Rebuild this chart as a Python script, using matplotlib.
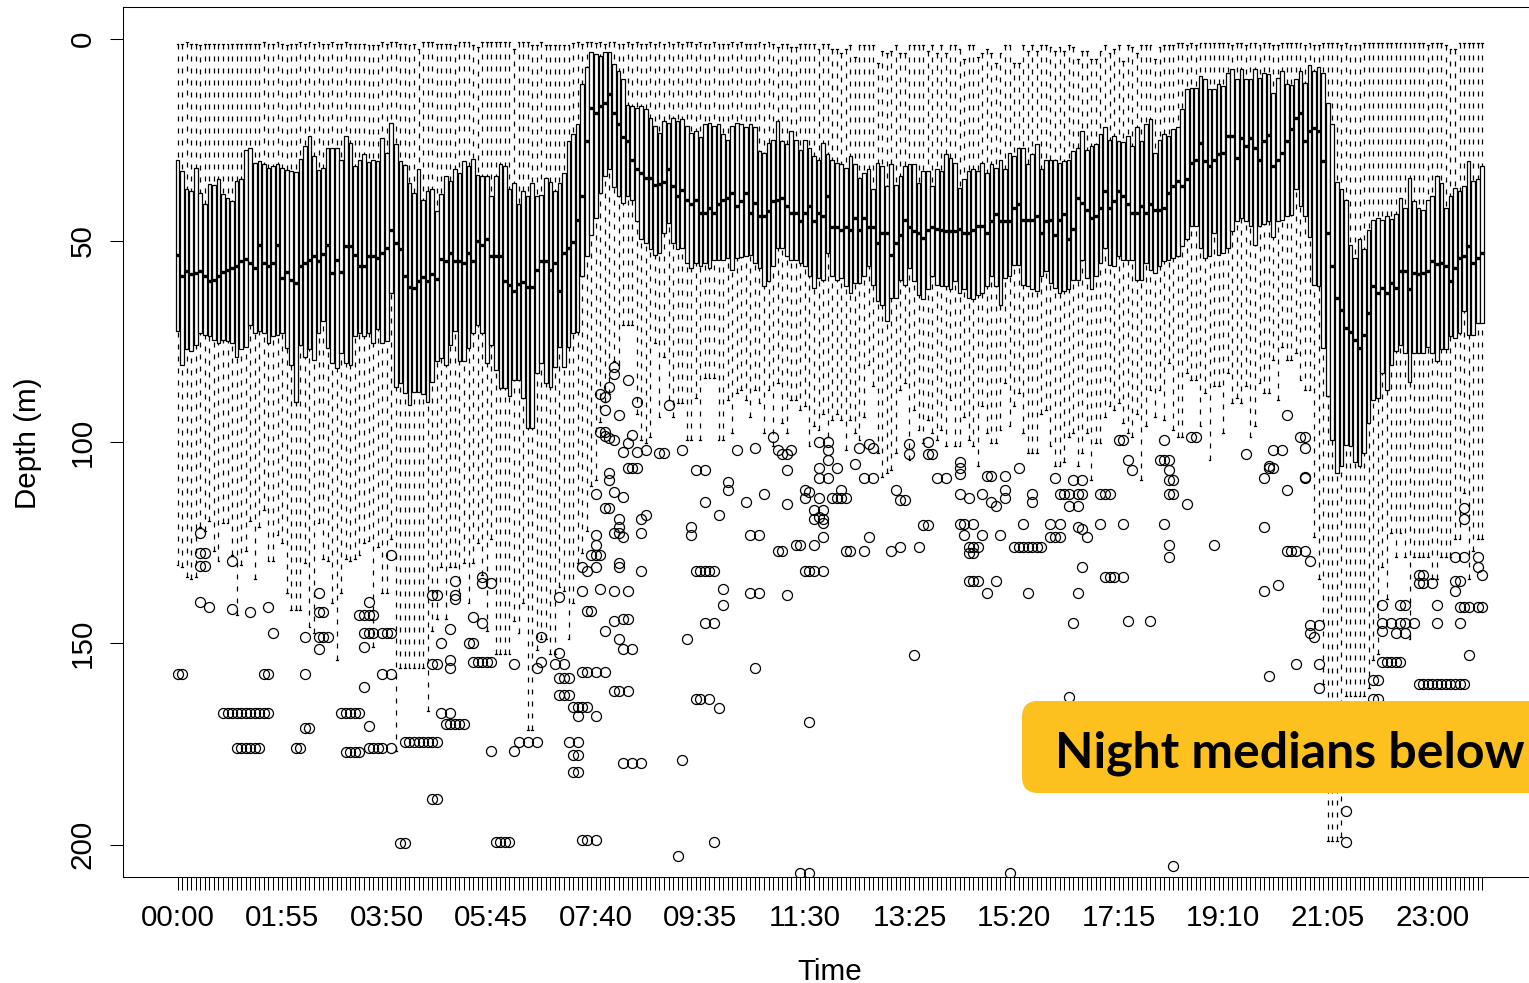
import matplotlib.pyplot as plt
from matplotlib.patches import FancyBboxPatch

plt.rcParams['font.family'] = ['Liberation Sans', 'DejaVu Sans']

# dive depth per 5-minute slot of the day
slots = [f"{m // 60:02d}:{m % 60:02d}" for m in range(0, 24 * 60, 5)]
tick_labels = ["00:00", "01:55", "03:50", "05:45", "07:40", "09:35", "11:30",
               "13:25", "15:20", "17:15", "19:10", "21:05", "23:00"]

q1 = [29.9, 32.8, 37.1, 37.7, 32.0, 38.3, 41.0, 35.9, 36.2, 34.7, 38.5, 39.4,
      40.2, 35.2, 34.8, 27.5, 27.0, 30.7, 30.3, 31.1, 32.0, 31.5, 31.0, 32.0,
      32.5, 32.8, 33.0, 29.7, 26.5, 24.0, 29.0, 32.5, 32.0, 27.0, 27.0, 27.0,
      29.9, 24.0, 25.7, 31.5, 30.0, 28.6, 30.6, 30.0, 30.3, 24.5, 28.2, 20.7,
      26.0, 30.2, 31.3, 35.6, 38.1, 32.3, 39.8, 37.7, 37.3, 42.6, 38.5, 34.0,
      35.2, 32.3, 33.2, 30.2, 31.5, 29.8, 33.6, 34.0, 33.9, 39.0, 34.0, 31.0,
      31.5, 37.3, 35.6, 41.0, 37.7, 39.0, 35.6, 39.0, 38.8, 34.4, 35.5, 37.7,
      35.6, 33.2, 25.3, 23.6, 21.1, 11.2, 7.0, 3.3, 3.7, 4.1, 3.1, 3.1,
      6.2, 7.9, 10.0, 16.4, 16.6, 17.0, 16.6, 17.4, 19.5, 21.5, 23.2, 20.3,
      20.7, 19.5, 20.3, 19.9, 21.5, 23.2, 22.8, 24.2, 21.0, 20.9, 21.5, 21.1,
      23.6, 24.9, 21.5, 20.7, 21.1, 21.9, 21.1, 21.9, 27.8, 28.2, 25.7, 24.9,
      20.3, 25.3, 26.1, 22.8, 24.9, 27.4, 24.9, 27.0, 29.0, 29.9, 25.7, 28.6,
      29.9, 30.7, 31.0, 31.9, 29.0, 31.0, 34.4, 33.2, 32.3, 37.3, 30.7, 31.5,
      36.5, 31.0, 36.1, 34.0, 31.5, 30.9, 31.0, 35.6, 32.8, 32.8, 36.5, 32.3,
      32.8, 28.6, 29.4, 30.7, 36.9, 34.8, 32.8, 32.2, 32.8, 30.7, 33.2, 31.0,
      31.9, 29.9, 32.3, 28.2, 29.0, 27.0, 27.0, 31.0, 28.6, 26.1, 32.3, 29.9,
      29.9, 29.9, 30.7, 30.3, 29.9, 27.8, 27.0, 22.8, 27.4, 26.5, 26.1, 23.6,
      21.9, 24.9, 24.0, 25.3, 25.5, 24.0, 26.5, 21.9, 25.3, 21.1, 19.9, 28.2,
      24.9, 23.6, 24.0, 22.4, 21.9, 17.4, 12.4, 12.0, 12.0, 9.1, 10.0, 12.4,
      12.4, 11.2, 11.6, 8.3, 7.5, 10.0, 7.5, 10.0, 10.0, 7.5, 9.6, 8.3,
      8.7, 13.3, 9.6, 7.9, 11.2, 11.4, 10.0, 7.9, 10.8, 6.5, 7.9, 7.0,
      8.4, 15.8, 21.1, 35.5, 37.3, 39.8, 51.0, 54.3, 49.7, 52.2, 47.3, 44.8,
      44.4, 44.8, 43.9, 44.6, 43.5, 39.4, 41.9, 34.4, 40.2, 41.9, 42.3, 39.8,
      39.0, 34.0, 35.6, 41.9, 39.0, 37.0, 37.7, 36.5, 30.3, 35.2, 34.8, 31.5]

med = [53.5, 58.7, 57.6, 58.2, 58.0, 57.6, 58.9, 60.1, 59.7, 58.9, 57.9, 57.2,
       56.8, 56.4, 55.1, 54.5, 55.6, 56.8, 51.0, 55.6, 56.4, 55.6, 51.0, 59.3,
       57.7, 59.8, 60.5, 56.4, 55.6, 54.7, 53.9, 55.0, 53.3, 51.0, 58.0, 54.8,
       57.9, 51.4, 51.4, 53.5, 56.4, 56.4, 53.9, 53.9, 54.3, 53.0, 51.8, 47.3,
       50.5, 52.0, 58.7, 61.4, 61.7, 60.1, 59.0, 60.0, 58.2, 59.5, 54.5, 55.0,
       53.0, 55.0, 55.0, 55.6, 53.0, 55.0, 50.0, 51.0, 49.6, 53.9, 53.9, 53.9,
       60.0, 61.0, 62.6, 60.7, 60.4, 61.5, 61.5, 57.4, 55.0, 55.0, 57.4, 55.6,
       62.6, 53.0, 51.8, 50.4, 44.8, 39.0, 25.3, 17.1, 18.3, 16.6, 15.8, 13.7,
       18.3, 21.0, 24.3, 25.3, 29.9, 32.3, 33.2, 34.4, 34.4, 36.3, 36.0, 35.5,
       32.3, 36.5, 39.0, 37.5, 39.8, 40.8, 39.8, 43.1, 43.1, 41.9, 43.1, 41.0,
       39.8, 39.4, 38.1, 41.5, 40.2, 38.1, 43.1, 40.6, 43.9, 43.9, 42.7, 40.2,
       39.8, 39.4, 41.5, 43.1, 43.1, 45.2, 43.1, 41.5, 45.2, 43.1, 43.9, 39.0,
       46.6, 46.6, 47.3, 46.6, 47.3, 44.4, 47.3, 44.4, 46.6, 46.6, 50.5, 48.1,
       48.1, 53.5, 50.5, 48.5, 44.8, 46.6, 47.7, 48.1, 49.4, 47.3, 46.6, 47.0,
       47.3, 47.7, 47.7, 47.7, 47.0, 48.1, 48.1, 47.3, 46.4, 46.4, 48.1, 45.2,
       43.5, 45.2, 45.2, 45.2, 41.9, 41.0, 44.8, 44.8, 44.8, 43.9, 48.1, 45.2,
       44.8, 48.5, 44.8, 43.5, 49.6, 47.0, 39.4, 40.6, 42.3, 44.4, 43.9, 41.9,
       37.7, 41.9, 40.2, 37.7, 39.0, 41.0, 43.1, 43.1, 41.5, 43.1, 41.0, 42.3,
       42.3, 41.9, 38.1, 36.5, 35.2, 36.5, 34.8, 30.7, 29.9, 25.7, 30.3, 31.5,
       29.9, 28.6, 28.2, 24.0, 24.0, 29.4, 24.5, 26.5, 24.5, 26.9, 29.9, 25.3,
       23.9, 31.5, 30.0, 28.2, 25.3, 22.4, 19.5, 18.3, 25.3, 22.8, 22.0, 22.8,
       30.3, 48.1, 56.4, 64.2, 67.2, 71.7, 72.6, 74.6, 76.6, 73.4, 68.0, 61.3,
       63.0, 61.7, 63.0, 60.5, 61.7, 57.6, 57.6, 62.1, 58.0, 58.4, 58.0, 57.6,
       55.0, 55.9, 55.5, 56.4, 60.1, 56.8, 54.3, 53.9, 51.4, 55.5, 54.3, 53.0]

q3 = [72.5, 81.0, 77.0, 77.5, 75.8, 73.0, 73.4, 73.8, 74.6, 75.5, 74.6, 75.0,
      75.5, 78.8, 77.0, 76.3, 70.9, 73.0, 72.5, 73.0, 75.5, 73.8, 73.4, 73.0,
      76.6, 81.0, 90.0, 76.0, 79.0, 77.0, 79.6, 73.0, 70.0, 76.6, 80.4, 81.7,
      78.0, 80.4, 80.8, 73.8, 73.0, 73.8, 73.0, 75.5, 72.0, 75.5, 75.0, 63.0,
      86.3, 85.4, 87.9, 90.8, 87.5, 87.5, 88.0, 90.0, 85.0, 80.0, 79.2, 80.8,
      75.9, 72.5, 80.0, 80.0, 76.6, 73.0, 71.0, 73.0, 80.4, 76.0, 82.0, 86.7,
      86.7, 88.7, 84.6, 84.6, 89.0, 96.6, 96.6, 82.9, 80.4, 85.4, 86.3, 81.3,
      76.3, 81.3, 76.3, 73.0, 72.6, 58.9, 53.9, 48.5, 44.4, 38.1, 34.0, 32.3,
      36.6, 39.0, 40.6, 39.0, 40.0, 45.2, 49.7, 50.5, 52.2, 53.5, 53.0, 48.0,
      45.6, 50.5, 52.2, 51.8, 55.5, 56.8, 55.5, 56.4, 55.5, 56.8, 54.7, 54.7,
      54.7, 54.3, 57.2, 54.3, 54.0, 53.9, 53.5, 55.5, 56.8, 61.3, 60.0, 56.4,
      51.8, 51.8, 53.9, 54.7, 54.7, 55.5, 56.4, 58.9, 61.7, 59.3, 59.7, 53.0,
      58.9, 59.7, 59.3, 61.3, 63.0, 60.5, 60.5, 58.9, 56.4, 61.0, 65.0, 65.9,
      70.0, 64.2, 64.2, 59.7, 61.0, 56.8, 60.0, 63.4, 64.6, 62.1, 58.9, 61.0,
      61.3, 61.3, 62.1, 60.0, 63.0, 62.1, 64.2, 64.6, 63.4, 63.0, 61.3, 58.9,
      61.3, 65.9, 59.3, 58.9, 56.0, 56.0, 61.0, 61.3, 62.1, 62.6, 58.9, 57.6,
      60.5, 61.7, 63.0, 62.6, 62.1, 59.7, 59.7, 54.7, 59.3, 62.1, 58.9, 55.5,
      51.8, 56.0, 56.4, 53.9, 54.7, 54.7, 54.7, 59.7, 59.7, 55.5, 57.2, 58.0,
      56.4, 55.1, 54.7, 54.3, 53.9, 51.4, 49.7, 46.4, 46.4, 51.8, 54.3, 53.9,
      48.0, 53.5, 53.0, 51.8, 47.7, 45.2, 44.4, 45.2, 46.4, 51.0, 46.4, 46.0,
      45.2, 49.0, 45.2, 44.8, 43.9, 43.7, 37.3, 41.5, 43.9, 49.0, 61.0, 61.3,
      76.6, 88.7, 99.5, 107.7, 106.0, 100.7, 101.0, 105.0, 106.0, 102.8, 95.3, 89.5,
      89.1, 82.9, 87.0, 80.8, 77.5, 75.9, 77.9, 85.0, 77.9, 77.9, 77.9, 76.3,
      77.9, 80.0, 77.0, 77.0, 73.8, 74.2, 73.0, 67.6, 73.4, 73.4, 70.5, 70.5]

# shallow whisker end
whisk_top = [1.2, 1.2, 0.6, 1.2, 1.2, 1.5, 1.2, 1.2, 1.2, 1.2, 1.2, 1.2,
             1.2, 1.2, 1.2, 1.2, 1.2, 1.2, 1.2, 0.6, 1.2, 1.2, 0.6, 1.2,
             1.5, 1.2, 1.2, 0.6, 1.2, 0.6, 1.2, 0.6, 1.2, 1.2, 0.6, 1.2,
             1.2, 0.6, 1.2, 1.2, 1.2, 1.2, 1.5, 1.5, 1.5, 0.6, 1.2, 0.6,
             0.8, 1.2, 1.2, 1.5, 1.2, 2.5, 0.8, 0.6, 0.6, 1.2, 1.2, 1.2,
             1.2, 1.5, 0.6, 0.6, 0.6, 1.5, 2.0, 0.8, 0.8, 0.8, 0.8, 0.8,
             0.8, 0.8, 2.5, 0.8, 0.8, 0.8, 1.5, 1.5, 0.6, 1.5, 1.5, 1.5,
             1.5, 1.5, 1.5, 1.0, 0.8, 1.2, 0.8, 0.8, 1.0, 0.8, 1.2, 0.8,
             0.6, 1.2, 1.2, 0.6, 1.2, 0.6, 1.2, 1.2, 0.6, 1.2, 0.6, 1.2,
             0.6, 1.2, 0.6, 1.2, 0.6, 0.6, 1.2, 0.6, 1.2, 1.2, 0.6, 1.2,
             1.2, 1.2, 0.6, 1.2, 0.6, 1.2, 1.2, 1.2, 0.6, 1.2, 0.6, 1.2,
             2.0, 1.2, 1.2, 2.0, 2.0, 1.2, 1.2, 1.2, 1.2, 2.5, 1.2, 1.2,
             2.5, 2.5, 3.5, 2.5, 1.5, 4.5, 1.5, 1.5, 1.5, 1.5, 6.0, 3.0,
             3.5, 3.0, 1.5, 3.5, 3.5, 1.5, 1.5, 1.5, 1.5, 3.0, 1.5, 3.5,
             1.5, 3.5, 1.5, 1.5, 2.5, 5.0, 1.5, 1.5, 4.5, 3.5, 2.5, 3.5,
             6.0, 3.5, 1.5, 1.5, 6.0, 6.0, 1.5, 3.0, 1.5, 3.0, 1.5, 1.5,
             2.0, 3.0, 2.0, 3.0, 1.5, 2.0, 5.0, 3.0, 3.0, 5.0, 5.0, 3.0,
             1.5, 3.5, 2.5, 1.5, 5.5, 1.5, 2.0, 3.5, 1.5, 1.5, 1.5, 5.0,
             2.0, 1.5, 1.5, 1.5, 1.0, 1.0, 1.5, 1.0, 1.5, 1.0, 1.0, 1.0,
             1.0, 1.0, 1.0, 1.0, 1.5, 1.0, 1.0, 1.5, 1.0, 1.0, 1.5, 1.0,
             1.0, 1.5, 1.5, 1.0, 1.0, 1.0, 1.0, 1.0, 1.5, 1.0, 1.5, 1.5,
             1.0, 1.0, 1.0, 1.0, 1.5, 1.0, 1.5, 1.5, 1.5, 1.0, 1.0, 1.0,
             1.0, 1.0, 1.0, 1.0, 1.0, 1.0, 1.0, 1.0, 1.0, 1.0, 1.0, 1.5,
             1.0, 1.0, 1.0, 1.5, 2.5, 2.5, 1.0, 1.0, 1.0, 1.0, 1.0, 1.0]

# deep whisker end
whisk_bot = [130.6, 131.0, 133.6, 134.0, 133.6, 121.0, 122.0, 119.7, 127.0, 129.6, 120.0, 120.0,
             128.0, 143.0, 130.6, 127.0, 119.7, 134.0, 121.0, 117.0, 129.6, 129.6, 123.0, 125.0,
             137.6, 141.8, 141.8, 141.8, 130.0, 146.0, 147.5, 120.0, 129.0, 129.6, 140.0, 154.0,
             137.6, 129.0, 129.6, 129.0, 128.0, 125.0, 124.6, 151.0, 126.0, 137.6, 137.6, 124.0,
             176.6, 156.0, 156.0, 156.0, 156.0, 156.0, 156.0, 166.7, 146.8, 144.0, 131.0, 144.0,
             131.0, 131.0, 137.6, 130.0, 140.0, 130.0, 125.0, 133.0, 146.8, 124.0, 152.6, 152.6,
             152.6, 152.6, 144.5, 147.5, 140.0, 171.6, 171.6, 151.7, 149.0, 149.0, 152.6, 152.6,
             136.0, 137.0, 149.0, 140.0, 130.0, 127.6, 122.0, 111.0, 109.5, 95.0, 90.0, 88.0,
             80.0, 81.0, 71.0, 71.0, 71.0, 93.0, 99.5, 100.3, 98.7, 75.5, 93.7, 78.8,
             89.5, 93.7, 90.4, 90.4, 99.5, 99.5, 89.0, 99.5, 84.0, 84.0, 84.0, 99.5,
             99.5, 89.5, 97.8, 87.8, 87.0, 89.5, 93.7, 87.0, 90.4, 97.8, 87.0, 101.0,
             85.4, 95.3, 97.8, 89.5, 89.5, 92.0, 91.0, 101.0, 96.0, 97.0, 93.0, 98.7,
             94.5, 93.0, 94.5, 102.0, 94.5, 97.8, 99.5, 93.7, 81.0, 86.0, 102.8, 108.7,
             107.8, 107.0, 102.8, 87.0, 85.4, 104.5, 92.0, 97.0, 100.3, 94.5, 97.8, 99.5,
             97.0, 101.0, 89.5, 101.0, 101.0, 93.7, 99.5, 101.0, 106.0, 91.0, 97.8, 100.3,
             100.3, 97.0, 85.4, 96.0, 91.0, 87.8, 97.8, 102.8, 102.8, 102.8, 93.0, 92.0,
             101.0, 106.0, 106.0, 105.0, 98.7, 97.8, 106.0, 102.8, 97.8, 109.5, 100.3, 100.3,
             93.7, 91.0, 92.0, 90.4, 95.3, 97.8, 98.7, 93.0, 109.5, 96.0, 87.0, 93.7,
             87.0, 94.5, 80.4, 97.0, 98.7, 98.7, 82.9, 84.6, 84.6, 96.0, 87.8, 104.5,
             86.0, 86.0, 97.8, 82.9, 90.4, 89.0, 90.4, 86.0, 98.7, 96.0, 85.4, 87.8,
             87.8, 79.6, 89.5, 76.3, 79.6, 79.6, 78.0, 84.6, 87.0, 87.0, 123.6, 134.0,
             160.0, 199.0, 199.0, 199.0, 198.0, 163.0, 163.0, 163.0, 163.0, 163.0, 161.0, 154.0,
             152.6, 131.0, 139.0, 122.6, 128.6, 122.6, 128.6, 149.0, 128.6, 128.6, 128.6, 128.6,
             134.0, 134.0, 128.6, 128.6, 128.6, 124.0, 124.0, 112.7, 134.0, 127.0, 124.0, 124.0]

# (slot index, depth) of points beyond the whiskers
outliers = [
    (0, 157.7), (1, 157.7), (5, 122.6), (5, 127.6), (6, 127.6), (5, 130.9), (6, 130.9),
    (5, 139.8), (7, 141.0), (12, 129.6), (12, 141.5), (16, 142.3), (20, 141.0), (21, 147.5),
    (10, 167.2), (11, 167.2), (12, 167.2), (13, 167.2), (14, 167.2), (15, 167.2), (16, 167.2),
    (17, 167.2), (18, 167.2), (19, 167.2), (20, 167.2),
    (13, 176.0), (14, 176.0), (15, 176.0), (16, 176.0), (17, 176.0), (18, 176.0),
    (19, 157.7), (20, 157.7), (28, 148.5), (28, 157.7), (28, 171.0), (29, 171.0),
    (26, 176.0), (27, 176.0), (31, 137.6), (31, 142.3), (32, 142.3), (31, 148.5),
    (32, 148.5), (33, 148.5), (31, 151.5),
    (36, 167.2), (37, 167.2), (38, 167.2), (39, 167.2), (40, 167.2),
    (37, 177.0), (38, 177.0), (39, 177.0), (40, 177.0),
    (40, 143.0), (41, 143.0), (42, 143.0), (43, 143.0), (42, 139.8),
    (41, 147.5), (42, 147.5), (43, 147.5), (45, 147.5), (46, 147.5), (47, 147.5),
    (41, 151.0), (41, 160.7), (42, 170.6),
    (42, 176.0), (43, 176.0), (44, 176.0), (45, 176.0), (47, 176.0),
    (45, 157.7), (47, 157.7), (47, 128.0),
    (50, 174.6), (51, 174.6), (52, 174.6), (53, 174.6), (54, 174.6), (55, 174.6),
    (56, 188.6), (57, 188.6), (49, 199.5), (50, 199.5), (56, 138.0), (56, 155.0),
    (61, 134.6), (57, 138.0), (61, 138.0), (61, 139.0), (67, 133.6), (67, 135.0),
    (69, 135.0), (65, 143.5), (67, 145.0), (60, 146.5), (58, 150.0), (64, 150.0),
    (65, 150.0), (57, 155.0), (60, 154.2), (60, 156.0),
    (65, 154.7), (66, 154.7), (67, 154.7), (68, 154.7), (69, 154.7),
    (74, 155.0), (79, 156.0), (80, 154.7), (80, 148.5), (83, 155.0), (85, 155.0),
    (84, 152.5), (84, 158.7), (85, 158.7), (86, 158.7), (84, 162.7), (85, 162.7),
    (86, 162.7), (87, 165.7), (88, 165.7), (89, 165.7), (90, 165.7), (88, 168.0),
    (92, 168.0), (89, 157.0), (90, 157.0), (92, 157.0), (94, 157.0), (96, 161.7),
    (97, 161.7), (99, 161.7),
    (59, 170.0), (60, 170.0), (61, 170.0), (62, 170.0), (63, 170.0),
    (58, 167.2), (60, 167.2), (56, 174.6), (57, 174.6), (69, 176.8), (74, 176.8),
    (75, 174.6), (77, 174.6), (79, 174.6), (86, 174.6), (88, 174.6), (87, 177.6),
    (88, 177.6), (87, 182.0), (88, 182.0), (98, 179.6), (100, 179.6), (102, 179.6),
    (111, 179.0), (70, 199.3), (71, 199.3), (72, 199.3), (73, 199.3),
    (89, 198.8), (90, 198.8), (92, 198.8), (110, 202.7),
    (93, 97.5), (94, 98.5), (95, 99.0), (96, 99.5), (100, 98.3), (99, 100.2),
    (98, 102.5), (101, 102.5), (103, 102.0), (106, 102.7), (107, 102.7), (111, 102.0),
    (114, 107.0), (95, 107.7), (95, 109.5), (99, 106.5), (100, 106.5), (101, 106.5),
    (92, 113.0), (96, 112.4), (98, 113.7), (94, 116.4), (95, 116.4), (97, 119.0),
    (97, 121.0), (96, 122.6), (97, 122.6), (98, 123.5), (102, 119.0), (103, 118.0),
    (102, 122.6), (113, 121.0), (113, 123.0), (92, 123.0), (92, 125.6), (91, 128.0),
    (92, 128.0), (93, 128.0), (89, 131.0), (90, 132.0), (92, 131.0), (97, 130.0),
    (97, 131.0), (102, 132.0), (89, 137.0), (93, 136.6), (96, 137.0),
    (99, 137.0), (90, 142.0), (91, 142.0), (96, 144.5), (98, 144.0), (99, 144.0),
    (94, 147.0), (97, 149.0), (98, 151.5), (100, 151.5), (112, 149.0), (84, 138.6),
    (96, 81.3), (96, 83.0), (99, 84.6), (95, 86.3), (94, 88.8), (93, 88.0), (94, 92.0),
    (97, 93.3), (101, 90.0), (108, 90.8), (94, 97.5), (116, 107.0),
    (123, 102.0), (127, 101.5), (131, 98.8), (132, 102.0), (133, 103.0), (134, 103.0),
    (135, 102.0), (134, 107.0), (141, 100.0), (143, 100.0), (143, 102.0), (143, 104.5),
    (141, 106.5), (145, 106.5), (141, 109.0), (143, 109.0), (149, 105.5), (150, 101.5),
    (152, 100.5), (153, 101.5), (161, 100.5), (161, 103.0), (165, 100.0), (166, 103.0),
    (165, 103.0), (172, 105.0), (172, 106.5), (172, 108.0), (151, 109.0), (153, 109.0),
    (167, 109.0), (169, 109.0), (121, 110.0), (121, 112.0), (116, 115.0), (119, 118.0),
    (125, 115.0), (129, 113.0), (134, 115.5), (138, 112.0), (139, 112.5), (138, 114.0),
    (141, 114.0), (144, 114.0), (145, 114.0), (146, 114.0), (147, 114.0), (146, 112.0),
    (140, 117.0), (142, 117.0), (140, 119.0), (142, 119.0), (141, 118.5), (142, 120.0),
    (142, 123.6), (140, 125.6), (152, 123.6), (158, 112.0), (159, 114.4), (160, 114.4),
    (164, 120.6), (165, 120.6), (126, 123.0), (128, 123.0), (132, 127.0), (133, 127.0),
    (136, 125.6), (137, 125.6), (147, 127.0), (148, 127.0), (151, 127.0), (157, 127.0),
    (159, 126.0), (163, 126.0), (114, 132.0), (115, 132.0), (116, 132.0), (117, 132.0),
    (118, 132.0), (138, 132.0), (139, 132.0), (140, 132.0), (142, 132.0), (120, 136.6),
    (126, 137.6), (128, 137.6), (134, 138.0), (120, 140.5), (116, 145.0), (118, 145.0),
    (127, 156.0), (162, 153.0), (114, 163.7), (115, 163.7), (117, 163.7), (119, 166.0),
    (139, 169.6), (118, 199.3), (137, 207.0), (139, 207.0),
    (178, 108.5), (179, 108.5), (182, 108.5), (182, 112.0), (182, 114.0), (185, 106.5),
    (172, 113.0), (174, 114.0), (177, 113.0), (179, 115.0), (180, 116.0), (188, 113.0),
    (188, 115.0), (193, 109.0), (194, 113.0), (195, 113.0), (196, 113.0), (198, 113.0),
    (199, 113.0), (196, 116.0), (198, 116.0), (197, 109.5), (199, 109.5), (203, 113.0),
    (204, 113.0), (205, 113.0), (207, 99.5), (208, 99.5), (209, 104.5), (210, 107.0),
    (216, 104.5), (217, 104.5), (218, 104.5), (217, 99.5), (218, 107.0), (218, 109.5),
    (219, 109.5), (218, 113.0), (219, 113.0), (222, 115.5), (223, 98.8), (224, 98.8),
    (172, 120.4), (173, 120.4), (175, 120.4), (173, 123.0), (177, 123.0), (181, 123.0),
    (174, 126.0), (175, 126.0), (176, 126.0), (174, 127.6), (175, 127.6), (186, 120.4),
    (184, 126.0), (185, 126.0), (186, 126.0), (187, 126.0), (188, 126.0), (189, 126.0),
    (190, 126.0), (192, 120.4), (194, 120.4), (192, 123.6), (193, 123.6), (194, 123.6),
    (198, 121.0), (199, 121.5), (200, 123.6), (203, 120.4), (208, 120.4), (217, 120.4),
    (218, 125.6), (218, 128.6), (228, 125.6), (199, 131.0), (174, 134.6), (175, 134.6),
    (176, 134.6), (180, 134.6), (178, 137.6), (187, 137.6), (198, 137.6), (204, 133.6),
    (205, 133.6), (206, 133.6), (208, 133.6), (197, 145.0), (209, 144.5), (214, 144.5),
    (196, 163.4), (183, 207.0), (219, 205.2),
    (235, 103.0), (241, 102.0), (243, 102.0), (247, 98.8), (248, 98.8), (248, 101.5),
    (240, 106.5), (241, 106.5), (239, 109.0), (248, 109.0), (244, 112.0), (239, 121.0),
    (244, 127.0), (245, 127.0), (246, 127.0), (248, 127.0), (249, 129.6), (239, 137.0),
    (242, 135.6), (249, 145.5), (251, 145.5), (249, 147.5), (250, 148.5), (246, 155.0),
    (251, 155.0), (240, 158.0), (251, 161.0), (257, 191.5), (257, 199.3),
    (265, 140.5), (269, 140.5), (270, 140.5), (265, 145.0), (267, 145.0), (269, 145.0),
    (270, 145.0), (272, 145.0), (265, 147.0), (268, 147.5), (270, 147.5), (273, 133.0),
    (274, 133.0), (273, 135.0), (274, 135.0), (276, 135.0), (277, 140.5), (277, 145.0),
    (281, 128.6), (283, 128.6), (283, 116.4), (283, 119.0), (281, 134.6), (282, 134.6),
    (281, 137.0), (282, 141.0), (283, 141.0), (284, 141.0), (286, 141.0), (287, 141.0),
    (282, 145.0), (286, 128.6), (286, 131.0), (287, 133.0),
    (265, 154.5), (266, 154.5), (267, 154.5), (268, 154.5), (269, 154.5),
    (263, 159.0), (264, 159.0), (263, 163.7), (264, 163.7),
    (273, 160.0), (274, 160.0), (275, 160.0), (276, 160.0), (277, 160.0), (278, 160.0),
    (279, 160.0), (280, 160.0), (281, 160.0), (282, 160.0), (283, 160.0), (284, 153.0),
    (244, 93.3), (240, 106.0), (248, 108.7),
]

n = len(slots)
positions = list(range(1, n + 1))
fliers = [[] for _ in range(n)]
for k, d in outliers:
    fliers[k].append(d)

stats = [dict(q1=q1[k], med=med[k], q3=q3[k], whislo=whisk_top[k],
              whishi=whisk_bot[k], fliers=fliers[k]) for k in range(n)]

fig = plt.figure(figsize=(15.29, 9.83), dpi=100)
ax = fig.add_axes([0.0804, 0.1078, 0.9248, 0.8851])

parts = ax.bxp(stats, positions=positions, widths=0.8, capwidths=0.4,
               patch_artist=True, manage_ticks=False,
               boxprops=dict(facecolor='white', edgecolor='black', linewidth=0.9),
               medianprops=dict(color='black', linewidth=2.4, solid_capstyle='butt'),
               whiskerprops=dict(color='black', linewidth=0.9, linestyle=(0, (4, 5.6))),
               capprops=dict(color='black', linewidth=0.9),
               flierprops=dict(marker='o', markerfacecolor='none', markeredgecolor='black',
                               markersize=7.2, markeredgewidth=0.9, linestyle='none'))
# dashes start from the whisker tip
for ln in parts['whiskers']:
    xs, ys = ln.get_data()
    ln.set_data(xs[::-1], ys[::-1])

ax.set_xlim(0.5 - 0.04 * n, n + 0.5 + 0.04 * n)
ax.set_ylim(208, -8)

ax.set_xticks(positions)
ax.set_xticklabels([s if s in tick_labels else '' for s in slots])
ax.set_yticks([0, 50, 100, 150, 200])
ax.tick_params(axis='both', labelsize=21.3, length=9.7, width=0.75, direction='out')
ax.tick_params(axis='x', pad=9.5)
ax.tick_params(axis='y', pad=9, labelrotation=90)
for lab in ax.get_yticklabels():
    lab.set_va('center')
for sp in ax.spines.values():
    sp.set_linewidth(0.75)

fig.text(830 / 1529, 1 - 980 / 983, 'Time', fontsize=21.3, ha='center', va='baseline')
fig.text(36 / 1529, 1 - 443 / 983, 'Depth (m)', fontsize=21.3, rotation=90,
         rotation_mode='anchor', ha='center', va='baseline')

# callout
inch = fig.dpi_scale_trans
fig.add_artist(FancyBboxPatch((10.22, 1.90), 5.6, 0.92,
                              boxstyle='round,pad=0,rounding_size=0.16',
                              transform=inch, facecolor='#FDC11F', edgecolor='none'))
fig.text(10.55, 2.15, 'Night medians below', transform=inch, fontsize=36,
         fontweight='bold', family=['Lato', 'DejaVu Sans'], ha='left', va='baseline')

fig.savefig('out.png', dpi=100)
